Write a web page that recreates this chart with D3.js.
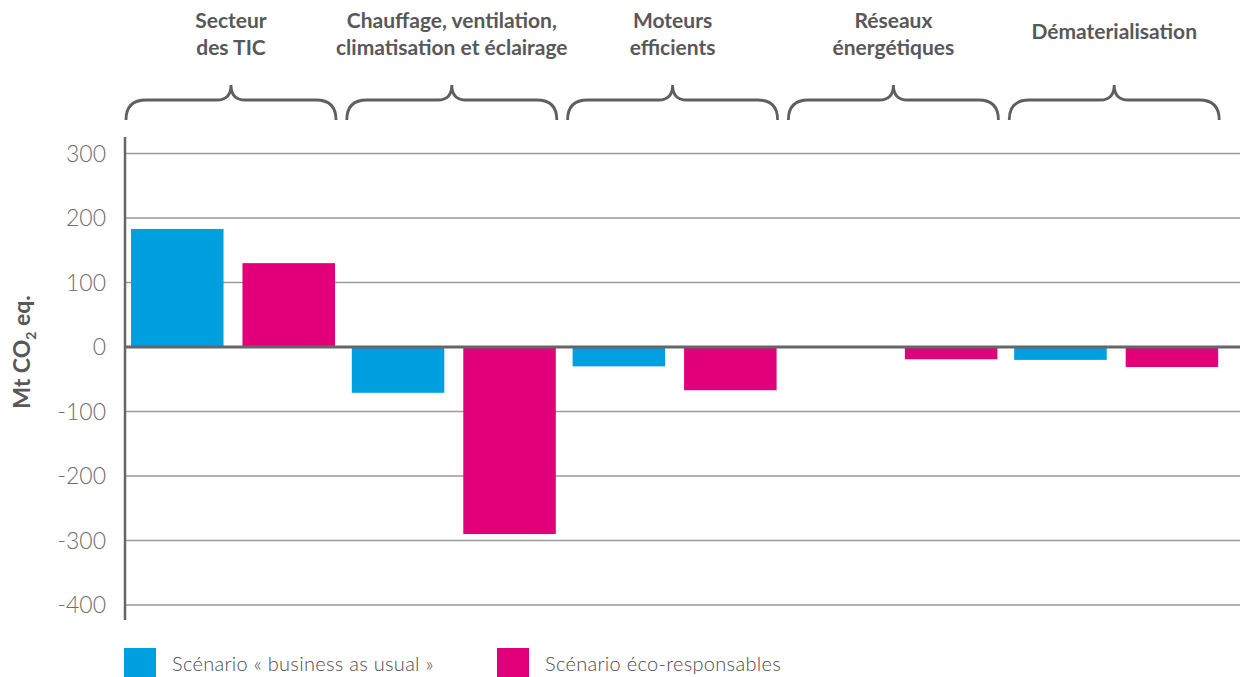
<!DOCTYPE html>
<html>
<head>
<meta charset="utf-8">
<script src="https://cdnjs.cloudflare.com/ajax/libs/d3/7.8.5/d3.min.js"></script>
<style>
    body { margin: 0; background: #fff; }
    svg { display: block; font-family: Lato, 'Open Sans', sans-serif; }
</style>
</head>
<body>
<div id="chart"></div>
<script>
// data
var groups = ['tic', 'cvc', 'moteurs', 'reseaux', 'demat'];
var groupLabels = [
    ['Secteur', 'des TIC'],
    ['Chauffage, ventilation,', 'climatisation et éclairage'],
    ['Moteurs', 'efficients'],
    ['Réseaux', 'énergétiques'],
    ['Dématerialisation']
];
var scenarios = ['bau', 'eco'];
var scenarioLabels = ['Scénario « business as usual »', 'Scénario éco-responsables'];
var bauValues = [183, -71, -30, 0, -20];
var ecoValues = [130, -290, -67, -19, -31];
var yTicks = [300, 200, 100, 0, -100, -200, -300, -400];

var colors = { bau: '#009fe0', eco: '#e2007a' };
var textColor = '#58585a';

var width = 1240;
var height = 677;

var svg = d3
    .select('#chart')
    .append('svg')
    .attr('width', width)
    .attr('height', height);

// scales
var x0 = d3.scaleBand()
    .domain(groups)
    .range([125, 1229])
    .paddingInner(0)
    .paddingOuter(0);

var x1 = d3.scaleBand()
    .domain(scenarios)
    .range([6, 210])
    .paddingInner(0.17);

var y = d3.scaleLinear()
    .domain([-400, 300])
    .range([605, 153.5]);

var rows = groups.map(function(g, i) {
    return { group: g, values: [
        { key: 'bau', value: bauValues[i] },
        { key: 'eco', value: ecoValues[i] }
    ] };
});

// grid lines
svg.append('g')
    .attr('class', 'grid')
    .selectAll('line')
    .data(yTicks.filter(function(d) { return d !== 0; }))
    .enter()
    .append('line')
    .attr('x1', 125)
    .attr('x2', width)
    .attr('y1', function(d) { return y(d); })
    .attr('y2', function(d) { return y(d); })
    .style('stroke', '#9a9a9a')
    .style('stroke-width', 1.5);

// bars
var barGroups = svg.append('g')
    .attr('class', 'bars')
    .selectAll('g')
    .data(rows)
    .enter()
    .append('g')
    .attr('transform', function(d) { return 'translate(' + x0(d.group) + ',0)'; });

barGroups
    .selectAll('rect')
    .data(function(d) { return d.values.filter(function(v) { return v.value !== 0; }); })
    .enter()
    .append('rect')
    .attr('x', function(d) { return x1(d.key); })
    .attr('width', x1.bandwidth())
    .attr('y', function(d) { return y(Math.max(0, d.value)); })
    .attr('height', function(d) { return Math.abs(y(d.value) - y(0)); })
    .style('fill', function(d) { return colors[d.key]; });

// zero line
svg.append('line')
    .attr('x1', 125)
    .attr('x2', width)
    .attr('y1', y(0))
    .attr('y2', y(0))
    .style('stroke', '#666')
    .style('stroke-width', 3);

// y axis line
svg.append('line')
    .attr('x1', 125)
    .attr('x2', 125)
    .attr('y1', 137)
    .attr('y2', 620)
    .style('stroke', '#666')
    .style('stroke-width', 2.5);

// y tick labels
svg.append('g')
    .attr('class', 'y-labels')
    .selectAll('text')
    .data(yTicks)
    .enter()
    .append('text')
    .attr('x', 106)
    .attr('y', function(d) { return y(d); })
    .attr('dy', '0.35em')
    .attr('text-anchor', 'end')
    .style('font-size', '23px')
    .style('font-weight', 300)
    .style('fill', '#6d6e70')
    .text(function(d) { return d; });

// y axis title
var yTitle = svg.append('text')
    .attr('transform', 'translate(30,352) rotate(-90)')
    .attr('text-anchor', 'middle')
    .style('font-size', '23px')
    .style('font-weight', 'bold')
    .style('fill', textColor);
yTitle.append('tspan').text('Mt CO');
yTitle.append('tspan').attr('dy', 6).style('font-size', '14px').text('2');
yTitle.append('tspan').attr('dy', -6).text(' eq.');

// braces
function bracePath(xa, xb) {
    var mid = (xa + xb) / 2;
    return 'M' + xa + ',120' +
        ' Q' + xa + ',100 ' + (xa + 20) + ',100' +
        ' L' + (mid - 14) + ',100' +
        ' Q' + mid + ',100 ' + mid + ',85' +
        ' Q' + mid + ',100 ' + (mid + 14) + ',100' +
        ' L' + (xb - 20) + ',100' +
        ' Q' + xb + ',100 ' + xb + ',120';
}

svg.append('g')
    .attr('class', 'braces')
    .selectAll('path')
    .data(groups)
    .enter()
    .append('path')
    .attr('d', function(d) { return bracePath(x0(d) + 1, x0(d) + 211); })
    .style('fill', 'none')
    .style('stroke', '#5f5f61')
    .style('stroke-width', 2.8);

// group labels
svg.append('g')
    .attr('class', 'group-labels')
    .selectAll('text')
    .data(groups)
    .enter()
    .append('text')
    .attr('x', function(d) { return x0(d) + 106; })
    .attr('y', function(d, i) { return groupLabels[i].length === 1 ? 39 : 28; })
    .attr('text-anchor', 'middle')
    .style('font-size', '21px')
    .style('font-weight', 'bold')
    .style('fill', textColor)
    .each(function(d, i) {
        var t = d3.select(this);
        groupLabels[i].forEach(function(line, j) {
            t.append('tspan')
                .attr('x', x0(d) + 106)
                .attr('dy', j === 0 ? 0 : 27)
                .text(line);
        });
    });

// legend
var legendX = [124, 497];
var legend = svg.append('g')
    .attr('class', 'legend')
    .selectAll('g')
    .data(scenarios)
    .enter()
    .append('g')
    .attr('transform', function(d, i) { return 'translate(' + legendX[i] + ',648)'; });

legend.append('rect')
    .attr('width', 32)
    .attr('height', 30)
    .style('fill', function(d) { return colors[d]; });

legend.append('text')
    .attr('x', 48)
    .attr('y', 23)
    .style('font-size', '20px')
    .style('font-weight', 300)
    .style('letter-spacing', '0.3px')
    .style('fill', '#4d4d4f')
    .text(function(d, i) { return scenarioLabels[i]; });
</script>
</body>
</html>
